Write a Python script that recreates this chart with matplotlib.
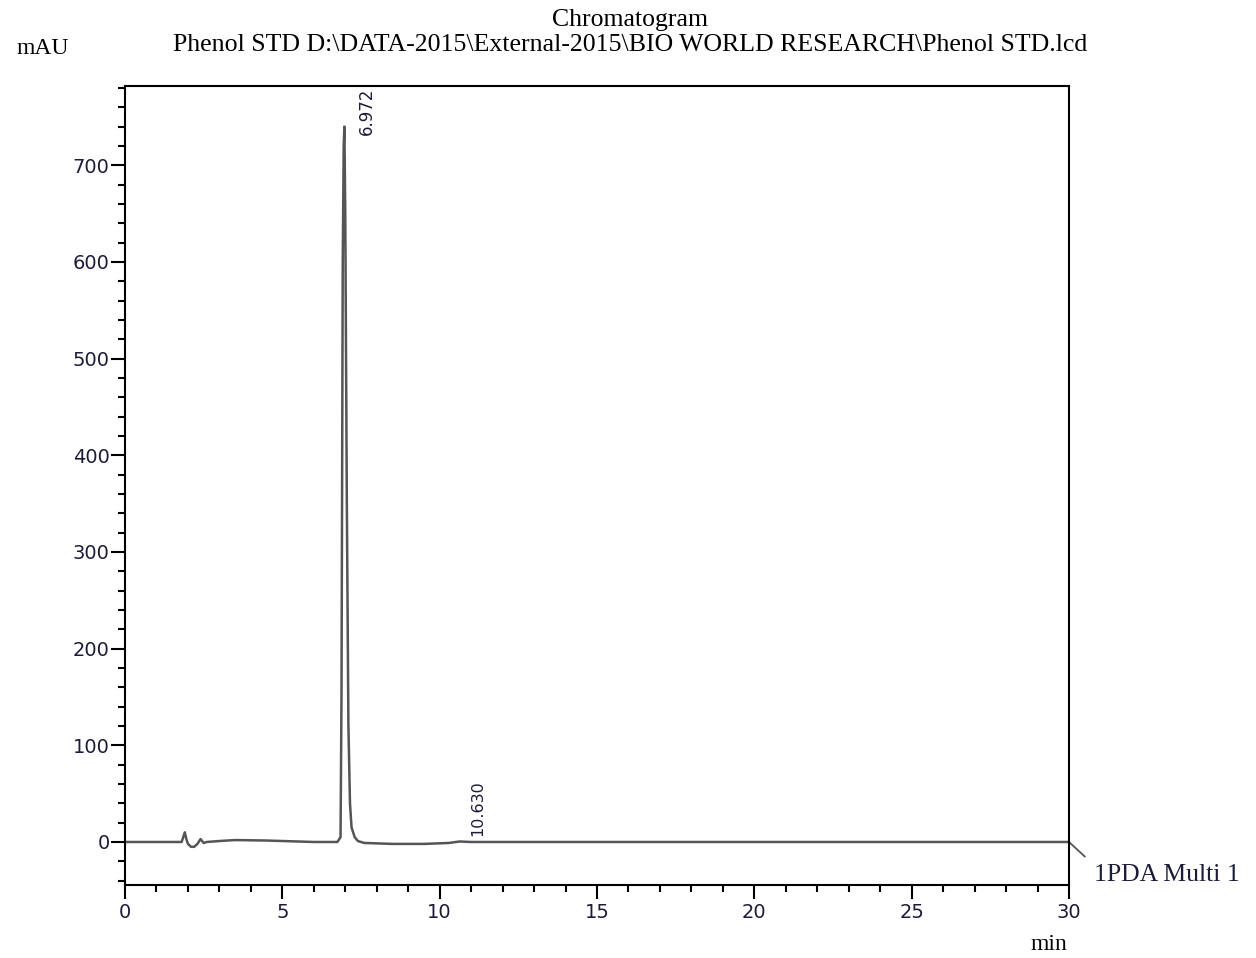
import matplotlib.pyplot as plt
from matplotlib.ticker import MultipleLocator

# chromatogram trace (min, mAU)
time_min = [0.0, 1.8, 1.85, 1.9, 1.95, 2.0, 2.1, 2.2, 2.3, 2.4, 2.45, 2.5,
            2.6, 3.0, 3.5, 4.5, 5.5, 6.0, 6.75, 6.85, 6.88, 6.92, 6.95, 6.972,
            7.0, 7.05, 7.1, 7.15, 7.2, 7.3, 7.4, 7.6, 8.5, 9.5, 10.3, 10.63,
            11.0, 12.0, 13.0, 30.0]
absorbance = [0.0, 0.0, 5.0, 10.0, 3.0, -2.0, -5.0, -5.0, -2.0, 3.0, 1.0, -1.0,
              0.0, 1.0, 2.0, 1.5, 0.5, 0.0, 0.0, 5.0, 150.0, 600.0, 720.0, 740.0,
              650.0, 350.0, 120.0, 40.0, 15.0, 5.0, 1.0, -1.0, -2.0, -2.0, -1.0, 0.5,
              0.0, 0.0, 0.0, 0.0]

peak_times = [6.972, 10.630]
peak_labels = ['6.972', '10.630']
peak_heights = [740.0, 0.5]

x_ticks = [0, 5, 10, 15, 20, 25, 30]
y_ticks = [0, 100, 200, 300, 400, 500, 600, 700]

serif = ['Liberation Serif', 'DejaVu Serif']
tick_col = '#1c1c3a'

fig = plt.figure(figsize=(12.56, 9.58), dpi=100)
ax = fig.add_axes([125 / 1256, 1 - 885 / 958, (1069 - 125) / 1256, (885 - 86) / 958])

ax.plot(time_min, absorbance, color='#555555', lw=1.8)

ax.set_xlim(0, 30)
ax.set_ylim(-44.5, 782)
ax.set_xticks(x_ticks)
ax.set_yticks(y_ticks)
ax.xaxis.set_minor_locator(MultipleLocator(1))
ax.yaxis.set_minor_locator(MultipleLocator(20))
ax.tick_params(which='major', direction='out', length=10, width=1.5,
               labelsize=14, labelcolor=tick_col, top=False, right=False, pad=1)
ax.tick_params(which='minor', direction='out', length=5, width=1.5,
               top=False, right=False)
ax.tick_params(axis='x', pad=3)
for s in ax.spines.values():
    s.set_linewidth(1.5)

# retention time labels
ax.annotate(peak_labels[0], (peak_times[0], peak_heights[0]), xytext=(16, -6),
            textcoords='offset points', rotation=90, ha='center', va='bottom',
            fontsize=12, color=tick_col)
ax.annotate(peak_labels[1], (peak_times[1], peak_heights[1]), xytext=(13, 4),
            textcoords='offset points', rotation=90, ha='center', va='bottom',
            fontsize=11.5, color=tick_col)

# channel leader line and label
ax.plot([30, 30.5], [0, -15], color='#555555', lw=1.3, clip_on=False)
fig.text(1094 / 1256, 1 - 875 / 958, '1PDA Multi 1', family=serif, fontsize=18.5,
         color=tick_col, va='center', ha='left')

fig.text(630 / 1256, 1 - 20 / 958, 'Chromatogram', family=serif, fontsize=18.5,
         ha='center', va='center')
fig.text(630 / 1256, 1 - 45 / 958,
         'Phenol STD D:\\DATA-2015\\External-2015\\BIO WORLD RESEARCH\\Phenol STD.lcd',
         family=serif, fontsize=18.6, ha='center', va='center')
fig.text(43 / 1256, 1 - 48 / 958, 'mAU', family=serif, fontsize=17,
         ha='center', va='center')
fig.text(1049 / 1256, 1 - 945 / 958, 'min', family=serif, fontsize=17,
         ha='center', va='center')

fig.savefig('out.png', dpi=100)
